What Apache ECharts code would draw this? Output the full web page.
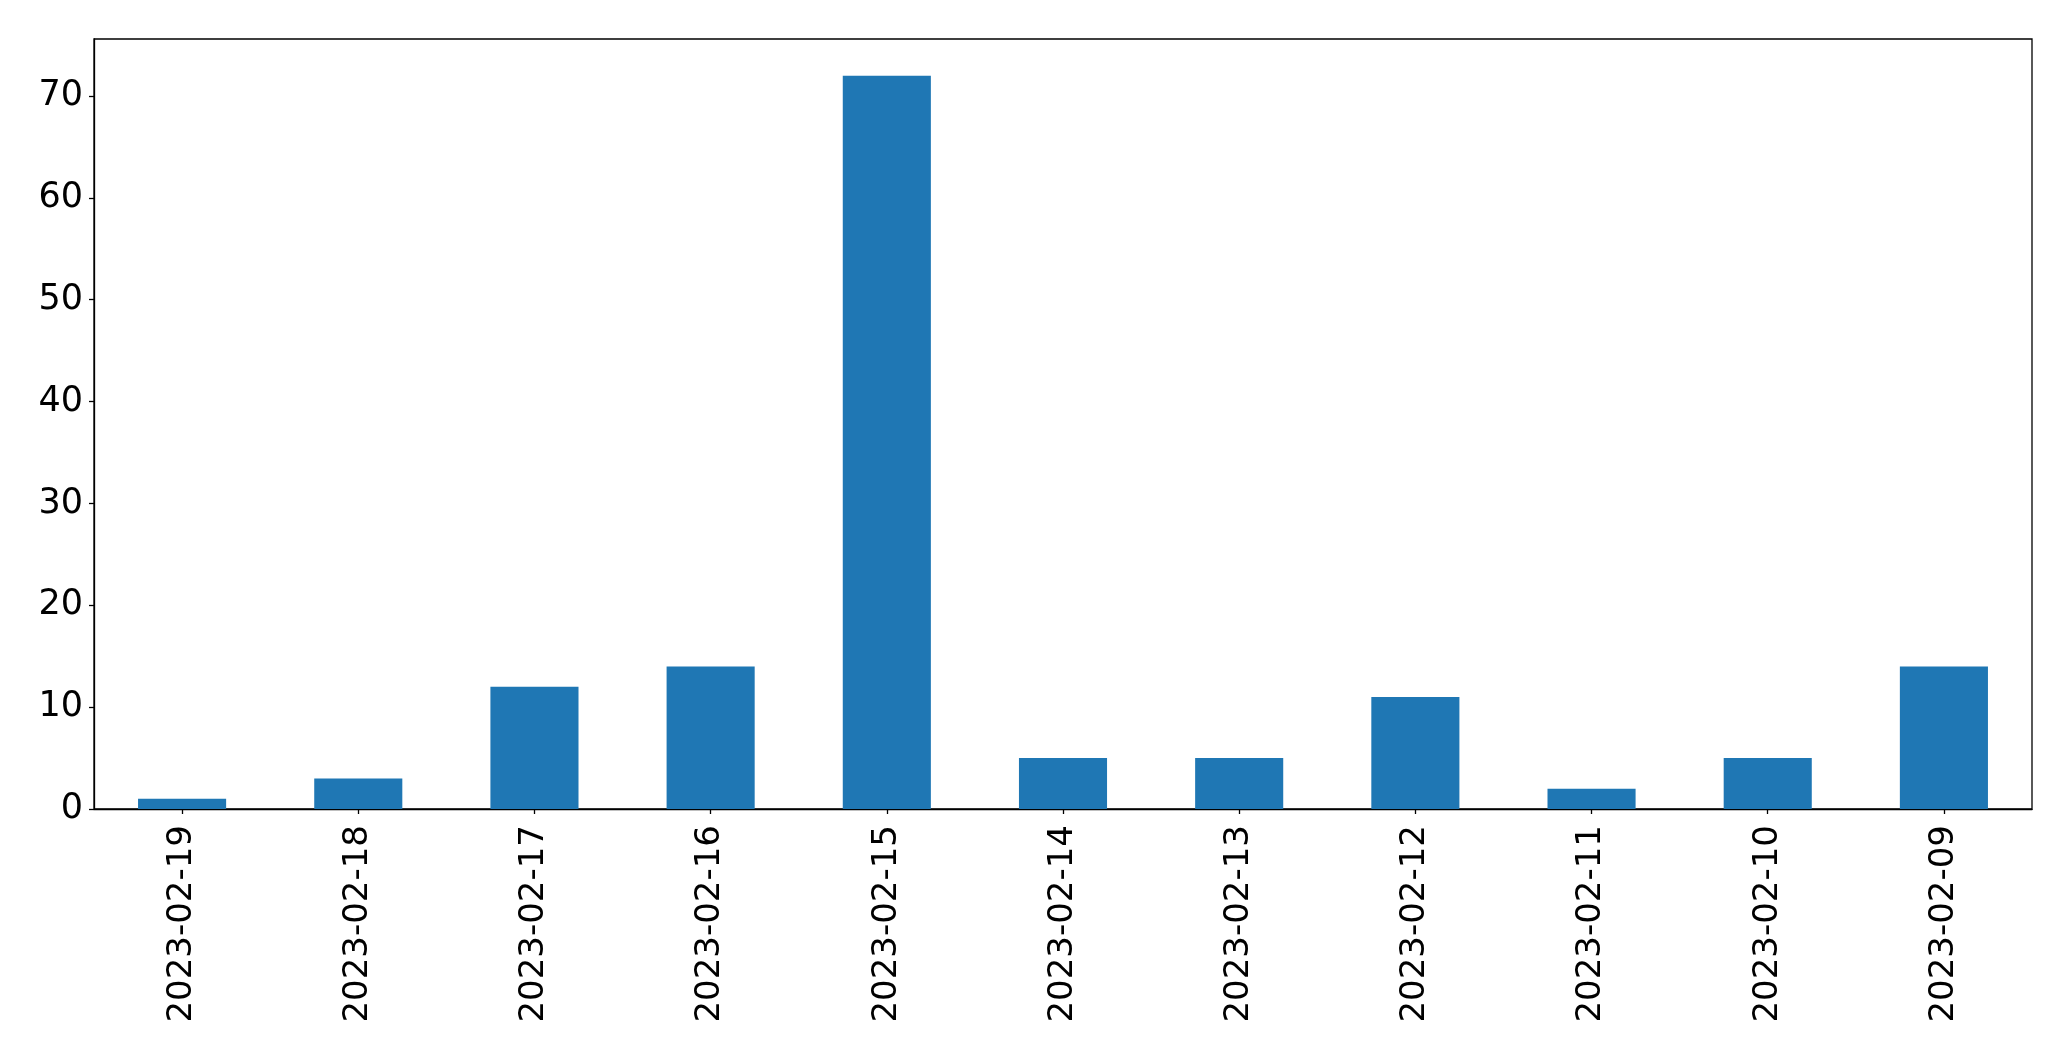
<!DOCTYPE html>
<html><head><meta charset="utf-8">
<script src="https://cdn.jsdelivr.net/npm/echarts@6/dist/echarts.min.js"></script>
<style>html,body{margin:0;padding:0;background:#fff}#c{width:2071px;height:1061px}</style>
</head><body><div id="c"></div>
<script>
const categories = ['2023-02-19','2023-02-18','2023-02-17','2023-02-16','2023-02-15','2023-02-14','2023-02-13','2023-02-12','2023-02-11','2023-02-10','2023-02-09'];
const counts = [1, 3, 12, 14, 72, 5, 5, 11, 2, 5, 14];
const yTicks = [0, 10, 20, 30, 40, 50, 60, 70];
const yMax = 75.6;

const chart = echarts.init(document.getElementById('c'), null, {renderer: 'canvas'});
const font = 'DejaVu Sans';
chart.setOption({
  animation: false,
  grid: {left: 94, right: 39, top: 39, bottom: 252, show: true, borderColor: '#000', borderWidth: 1.3, backgroundColor: 'transparent'},
  xAxis: {
    type: 'category', data: categories, boundaryGap: true,
    axisLine: {show: true, lineStyle: {color: '#000', width: 1.3}},
    axisTick: {show: true, alignWithLabel: true, length: 5, lineStyle: {color: '#000', width: 1.3}},
    axisLabel: {interval: 0, rotate: 90, margin: 16, color: '#000', fontFamily: font, fontSize: 34},
    splitLine: {show: false}
  },
  yAxis: {
    type: 'value', min: 0, max: yMax,
    axisLine: {show: true, lineStyle: {color: '#000', width: 1.3}},
    axisTick: {show: true, length: 5, lineStyle: {color: '#000', width: 1.3}, customValues: yTicks},
    axisLabel: {margin: 11, color: '#000', fontFamily: font, fontSize: 35, customValues: yTicks},
    splitLine: {show: false}
  },
  series: [{
    type: 'bar', data: counts, barWidth: '50%',
    itemStyle: {color: '#1f77b4'}
  }]
});
</script></body></html>
